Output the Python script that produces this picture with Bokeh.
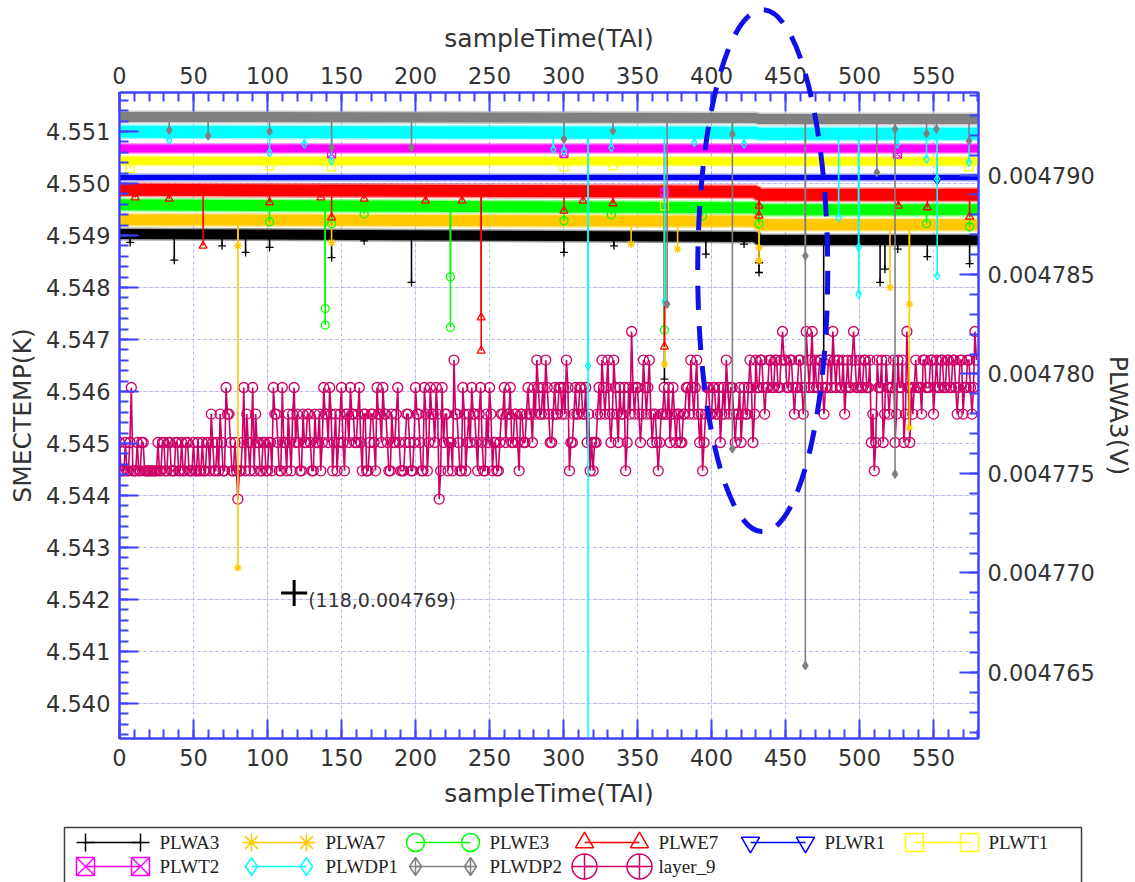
import numpy as np
from bokeh.plotting import figure
from bokeh.models import (Range1d, LinearAxis, SingleIntervalTicker, PrintfTickFormatter, Grid)
from bokeh.embed import file_html
from bokeh.resources import INLINE
from bokeh.core.properties import value

# ---------------- data ----------------
series_names = ["PLWA3", "PLWA7", "PLWE3", "PLWE7", "PLWR1", "PLWT1",
                "PLWT2", "PLWDP1", "PLWDP2", "layer_9"]

# dense noisy bands: level of each band (PLW*, right axis, V) at these times
band_t = [0, 430, 432, 581]
band_v = {
    "PLWA3":  [0.00478704, 0.00478689, 0.00478674, 0.00478674],
    "PLWA7":  [0.00478775, 0.00478767, 0.00478750, 0.00478750],
    "PLWE3":  [0.00478850, 0.00478835, 0.00478825, 0.00478825],
    "PLWE7":  [0.00478926, 0.00478916, 0.00478901, 0.00478901],
    "PLWR1":  [0.00478988, 0.00478988, 0.00478988, 0.00478988],
    "PLWT1":  [0.00479071, 0.00479069, 0.00479069, 0.00479069],
    "PLWT2":  [0.00479133, 0.00479133, 0.00479133, 0.00479133],
    "PLWDP1": [0.00479217, 0.00479212, 0.00479207, 0.00479207],
    "PLWDP2": [0.00479292, 0.00479287, 0.00479282, 0.00479282],
}

# outlier samples (spikes) of each PLW series
PLWA3_spike_t = [7.2, 37.0, 69.3, 85.2, 101.4, 143.3, 165.3, 197.3, 300.3, 334.1, 368.2,
                 396.2, 422.0, 432.1, 432.1, 475.8, 513.9, 517.2, 525.8, 545.8, 574.4]
PLWA3_spike_v = [0.00478661, 0.00478572, 0.00478644, 0.00478611, 0.00478636, 0.00478585,
                 0.00478669, 0.00478460, 0.00478611, 0.00478644, 0.00477974, 0.00478602,
                 0.00478653, 0.00478559, 0.00478510, 0.00478076, 0.00478460, 0.00478527,
                 0.00478628, 0.00478590, 0.00478555]
PLWA7_spike_t = [80.0, 80.0, 143.3, 345.7, 368.2, 377.1, 432.1, 432.1, 520.6, 533.7, 533.7]
PLWA7_spike_v = [0.00478644, 0.00477026, 0.00478661, 0.00478653, 0.00478050, 0.00478628,
                 0.00478634, 0.00478569, 0.00478435, 0.00478351, 0.00477731]
PLWE3_spike_t = [101.4, 139.0, 139.0, 143.3, 165.3, 223.6, 223.6, 300.3, 332.3, 368.2,
                 393.9, 432.1, 545.3, 574.4]
PLWE3_spike_v = [0.00478765, 0.00478329, 0.00478246, 0.00478755, 0.00478805, 0.00478488,
                 0.00478234, 0.00478770, 0.00478800, 0.00478221, 0.00478795, 0.00478755,
                 0.00478756, 0.00478740]
PLWE7_spike_t = [10.6, 33.6, 56.5, 101.4, 136.1, 143.3, 165.3, 206.8, 231.4, 244.4, 244.4,
                 300.3, 313.2, 333.4, 368.2, 432.1, 432.1, 526.3, 545.8, 574.4]
PLWE7_spike_v = [0.00478887, 0.00478880, 0.00478644, 0.00478862, 0.00478887, 0.00478786,
                 0.00478880, 0.00478870, 0.00478870, 0.00478284, 0.00478117, 0.00478820,
                 0.00478870, 0.00478857, 0.00478137, 0.00478845, 0.00478795, 0.00478845,
                 0.00478837, 0.00478790]
PLWR1_spike_t = [552.5]
PLWR1_spike_v = [0.00478974]
PLWT1_spike_t = [7.2, 101.4, 143.3, 300.3, 333.4, 368.2, 574.0]
PLWT1_spike_v = [0.00479033, 0.00479046, 0.00479041, 0.00479041, 0.00479046, 0.00478845,
                 0.00479041]
PLWT2_spike_t = [143.3, 300.3, 368.2, 525.6]
PLWT2_spike_v = [0.00479106, 0.00479108, 0.00478912, 0.00479105]
PLWDP1_spike_t = [33.6, 101.4, 124.9, 143.3, 293.1, 300.3, 316.6, 316.6, 332.3, 368.2,
                  388.4, 422.0, 485.9, 499.4, 499.4, 525.6, 545.3, 552.5, 552.5, 574.0]
PLWDP1_spike_v = [0.00479175, 0.00479113, 0.00479155, 0.00479071, 0.00479130, 0.00479122,
                  0.00478041, 0.00476000, 0.00479138, 0.00478364, 0.00479163, 0.00479155,
                  0.00478786, 0.00478636, 0.00478401, 0.00479155, 0.00479080, 0.00478981,
                  0.00478493, 0.00479063]
PLWDP2_spike_t = [33.6, 59.9, 101.4, 143.3, 197.3, 300.3, 333.4, 370.0, 414.1, 414.1,
                  463.4, 463.4, 511.7, 524.0, 524.0, 545.3, 552.0, 574.0]
PLWDP2_spike_v = [0.00479226, 0.00479197, 0.00479219, 0.00479138, 0.00479138, 0.00479180,
                  0.00479222, 0.00478351, 0.00479205, 0.00477624, 0.00478594, 0.00476534,
                  0.00479013, 0.00479231, 0.00477497, 0.00479208, 0.00479231, 0.00479172]

spikes = {
    "PLWA3": (PLWA3_spike_t, PLWA3_spike_v), "PLWA7": (PLWA7_spike_t, PLWA7_spike_v),
    "PLWE3": (PLWE3_spike_t, PLWE3_spike_v), "PLWE7": (PLWE7_spike_t, PLWE7_spike_v),
    "PLWR1": (PLWR1_spike_t, PLWR1_spike_v), "PLWT1": (PLWT1_spike_t, PLWT1_spike_v),
    "PLWT2": (PLWT2_spike_t, PLWT2_spike_v), "PLWDP1": (PLWDP1_spike_t, PLWDP1_spike_v),
    "PLWDP2": (PLWDP2_spike_t, PLWDP2_spike_v),
}

# layer_9 (SMECTEMP, left axis, K): quantised levels and the level index of each sample
layer9_levels = [4.543931, 4.544475, 4.545019, 4.545565, 4.546077, 4.546604, 4.547154]
layer9_t = list(range(0, 580))
# samples at even times 0,2,...,578
layer9_even = [
    2,1,2,1,4,1,2,1,2,1,1,1,1,2,1,2,1,2,1,2,1,2,1,2,1,2,1,1,2,1,
    2,3,1,2,3,1,4,3,1,2,0,1,4,3,1,4,3,2,1,2,1,2,4,3,1,4,2,3,1,4,
    3,1,3,2,3,1,3,2,1,4,3,4,1,3,2,4,1,3,4,3,2,4,1,3,1,3,2,4,3,4,
    3,1,3,2,4,1,1,3,2,1,4,3,1,4,1,4,3,4,0,4,3,1,2,5,3,1,4,1,3,4,
    3,1,4,1,3,4,1,2,1,3,4,3,4,2,3,1,3,2,4,3,4,5,3,4,5,3,2,4,3,4,
    4,5,1,2,4,3,4,3,2,1,1,2,4,5,3,5,2,5,3,4,3,1,4,6,3,4,2,5,3,5,
    2,3,1,3,4,3,2,4,2,3,2,3,4,5,3,5,2,1,3,4,3,4,3,2,4,5,3,4,2,3,
    2,4,3,5,2,5,4,5,3,4,5,4,5,4,6,5,4,5,3,4,5,3,6,4,6,5,4,5,3,4,
    5,6,4,5,4,3,5,4,6,4,5,4,5,4,2,1,5,4,2,5,3,4,2,5,4,2,6,2,3,5,
    4,3,5,4,5,3,5,4,5,4,5,4,5,3,5,3,4,5,3,6,
]
# samples at odd times 1,3,...,579
layer9_odd = [
    1,1,1,2,1,1,1,2,1,1,1,1,1,1,2,1,2,1,1,2,1,1,2,1,1,1,2,1,1,2,
    1,2,1,1,2,1,3,2,1,1,1,2,1,2,2,1,2,1,2,1,2,1,3,2,1,2,1,2,3,2,
    2,1,2,3,2,1,2,3,2,3,2,3,2,1,3,2,3,2,3,2,3,2,3,1,2,3,1,3,2,3,
    2,1,2,3,2,1,2,3,1,2,3,2,1,3,2,3,2,3,1,2,3,2,1,3,2,1,3,2,2,3,
    2,3,2,1,2,3,2,1,2,3,2,3,2,3,2,3,2,3,3,2,3,4,3,3,4,2,3,3,4,3,
    3,4,2,3,3,4,3,4,3,2,2,3,3,4,4,3,3,4,2,3,4,2,3,4,4,3,3,4,4,3,
    3,2,2,3,3,4,3,3,3,2,3,4,3,4,4,3,3,2,4,3,4,3,4,3,3,4,4,3,3,4,
    3,3,4,4,3,4,5,4,4,5,4,5,4,5,5,4,5,4,4,5,4,4,5,5,4,4,5,4,4,5,
    4,5,5,4,5,4,4,5,5,4,4,5,4,5,3,2,4,5,3,4,4,5,3,4,5,3,4,4,4,4,
    4,5,4,4,5,4,4,5,4,5,4,5,4,4,5,4,5,4,4,5,
]
layer9_code = [c for pair in zip(layer9_even, layer9_odd) for c in pair]
layer9_v = [layer9_levels[c] for c in layer9_code]

# cursor read-out
cursor_t = 118
cursor_v = 0.004769

x_lim = (0, 580.4)
left_lim = (4.539327, 4.551750)
right_lim = (0.004761683, 0.004794146)

# highlight ellipse (centre in data units of the left axis, radii in pixels)
ELL_T, ELL_Y = 432.6, 4.548321
ELL_RX_PX, ELL_RY_PX = 65, 261

# ---------------- styles ----------------
BLUE = "#4040ff"
TXT = "#333333"
FONT = "DejaVu Sans"
style = {
    "PLWA3":  dict(color="#000000", marker="cross", fill=None, band_w=12),
    "PLWA7":  dict(color="#ffc800", marker="asterisk", fill=None, band_w=13),
    "PLWE3":  dict(color="#00ff00", marker="circle", fill=None, band_w=13),
    "PLWE7":  dict(color="#ff0000", marker="triangle", fill=None, band_w=14),
    "PLWR1":  dict(color="#0000ff", marker="inverted_triangle", fill=None, band_w=7),
    "PLWT1":  dict(color="#ffff00", marker="square", fill=None, band_w=10),
    "PLWT2":  dict(color="#ff00ff", marker="square_x", fill=None, band_w=10),
    "PLWDP1": dict(color="#00ffff", marker="diamond", fill=None, band_w=14),
    "PLWDP2": dict(color="#808080", marker="diamond", fill="#808080", band_w=12),
    "layer_9": dict(color="#cc0066", marker="circle", fill=None),
}
legend_marker = {"PLWDP2": "diamond_cross", "layer_9": "circle_cross"}

W, H, LH = 1135, 816, 66
BL, BR, BT, BB = 119, 153, 92, 78
FW, FH = W - BL - BR, H - BT - BB

p = figure(width=W, height=H, output_backend="svg", toolbar_location=None,
           x_range=Range1d(*x_lim), y_range=Range1d(*left_lim),
           x_axis_location=None, y_axis_location=None,
           min_border_left=BL, min_border_right=BR, min_border_top=BT, min_border_bottom=BB)
p.extra_y_ranges = {"v": Range1d(*right_lim)}
p.background_fill_color = "white"
p.border_fill_color = "white"
p.outline_line_color = BLUE
p.outline_line_width = 2


def style_axis(ax, label, standoff=9, title_standoff=7):
    ax.axis_label = label
    ax.axis_line_color = BLUE
    ax.axis_line_width = 2
    ax.major_tick_line_color = BLUE
    ax.major_tick_line_width = 2
    ax.minor_tick_line_color = BLUE
    ax.minor_tick_line_width = 2
    ax.major_tick_in = 19
    ax.major_tick_out = 0
    ax.minor_tick_in = 9
    ax.minor_tick_out = 0
    ax.major_label_text_font = FONT
    ax.major_label_text_font_size = "22.5px"
    ax.major_label_text_color = TXT
    ax.major_label_standoff = standoff
    ax.axis_label_text_font = FONT
    ax.axis_label_text_font_size = "25px"
    ax.axis_label_text_font_style = "normal"
    ax.axis_label_text_color = TXT
    ax.axis_label_standoff = title_standoff


xt = SingleIntervalTicker(interval=50, num_minor_ticks=5)
ylt = SingleIntervalTicker(interval=0.001, num_minor_ticks=5)
yrt = SingleIntervalTicker(interval=5e-6, num_minor_ticks=5)

axb = LinearAxis(ticker=xt)
style_axis(axb, "sampleTime(TAI)", standoff=10, title_standoff=10)
p.add_layout(axb, "below")
axt = LinearAxis(ticker=xt)
style_axis(axt, "sampleTime(TAI)", standoff=9, title_standoff=11)
p.add_layout(axt, "above")
axl = LinearAxis(ticker=ylt, formatter=PrintfTickFormatter(format="%.3f"))
style_axis(axl, "SMECTEMP(K)", standoff=9, title_standoff=6)
p.add_layout(axl, "left")
axr = LinearAxis(ticker=yrt, y_range_name="v", formatter=PrintfTickFormatter(format="%.6f"))
style_axis(axr, "PLWA3(V)", standoff=9, title_standoff=6)
p.add_layout(axr, "right")

for dim, tk in ((0, xt), (1, ylt)):
    g = Grid(dimension=dim, ticker=tk, grid_line_color="#b4b4ff", grid_line_dash="3 3",
             grid_line_width=1)
    p.add_layout(g)

# layer_9 first (drawn underneath)
s9 = style["layer_9"]
p.line(layer9_t, layer9_v, line_color=s9["color"], line_width=1.6)
p.scatter(layer9_t, layer9_v, marker="circle", size=10, fill_color=None,
          line_color=s9["color"], line_width=1.3)

for name in series_names[:-1]:
    st = style[name]
    bv = band_v[name]
    p.line(band_t, bv, y_range_name="v", line_color=st["color"], line_width=st["band_w"] + 1,
           line_alpha=0.4)
    p.line(band_t, bv, y_range_name="v", line_color=st["color"], line_width=st["band_w"] - 2)
    t, v = spikes[name]
    base = np.interp(t, band_t, bv)
    p.segment(x0=t, y0=base, x1=t, y1=v, y_range_name="v", line_color=st["color"],
              line_width=1.6)
    p.scatter(t, v, y_range_name="v", marker=st["marker"], size=8,
              fill_color=st["fill"], line_color=st["color"], line_width=1.3)

# cursor read-out
p.scatter([cursor_t], [cursor_v], y_range_name="v", marker="cross", size=26,
          line_color="black", line_width=3)
p.text([cursor_t], [cursor_v], text=[f"({cursor_t},{cursor_v})"], y_range_name="v",
       x_offset=14, y_offset=7, text_baseline="middle", text_font=value(FONT),
       text_font_size="19px", text_color=TXT)

# ---------------- legend strip ----------------
lg = figure(width=W, height=LH, output_backend="svg", toolbar_location=None,
            x_range=Range1d(0, W), y_range=Range1d(LH, 0), min_border=0,
            x_axis_location=None, y_axis_location=None)
lg.outline_line_color = None
lg.grid.visible = False
lg.background_fill_color = "white"
lg.border_fill_color = "white"
lg.quad(left=[64], right=[1081], top=[11], bottom=[95], fill_color=None,
        line_color="#404040", line_width=1.5)
col_x = [85, 251, 415, 584, 750, 914]
row_y = [26, 50]
for i, name in enumerate(series_names):
    r, c = divmod(i, 6)
    x1, y = col_x[c], row_y[r]
    x2 = x1 + 55
    st = style[name]
    mk = legend_marker.get(name, st["marker"])
    sz = 25 if name == "layer_9" else 18
    lg.line([x1, x2], [y, y], line_color=st["color"], line_width=1.5)
    lg.scatter([x1, x2], [y, y], marker=mk, size=sz, fill_color=None,
               line_color=st["color"], line_width=1.5)
    lg.text([x1 + 74], [y], text=[name], text_baseline="middle",
            text_font=value("Liberation Serif"), text_font_size="19px", text_color="#222222")

# ---------------- overlay for the hand-drawn dashed ellipse (not clipped by the frame) ----
ov = figure(width=W, height=H, output_backend="svg", toolbar_location=None,
            x_range=Range1d(0, W), y_range=Range1d(H, 0), min_border=0,
            x_axis_location=None, y_axis_location=None,
            styles={"position": "absolute", "top": "0px", "left": "0px",
                    "pointer-events": "none"})
ov.outline_line_color = None
ov.grid.visible = False
ov.background_fill_alpha = 0
ov.border_fill_alpha = 0
ecx = BL + (ELL_T - x_lim[0]) * FW / (x_lim[1] - x_lim[0])
ecy = BT + (left_lim[1] - ELL_Y) * FH / (left_lim[1] - left_lim[0])
ov.ellipse(x=[ecx], y=[ecy], width=[2 * ELL_RX_PX], height=[2 * ELL_RY_PX],
           fill_color=None, line_color="#1010e8", line_width=5, line_dash="24 16")

open("out.html", "w").write(file_html([p, lg, ov], INLINE))
